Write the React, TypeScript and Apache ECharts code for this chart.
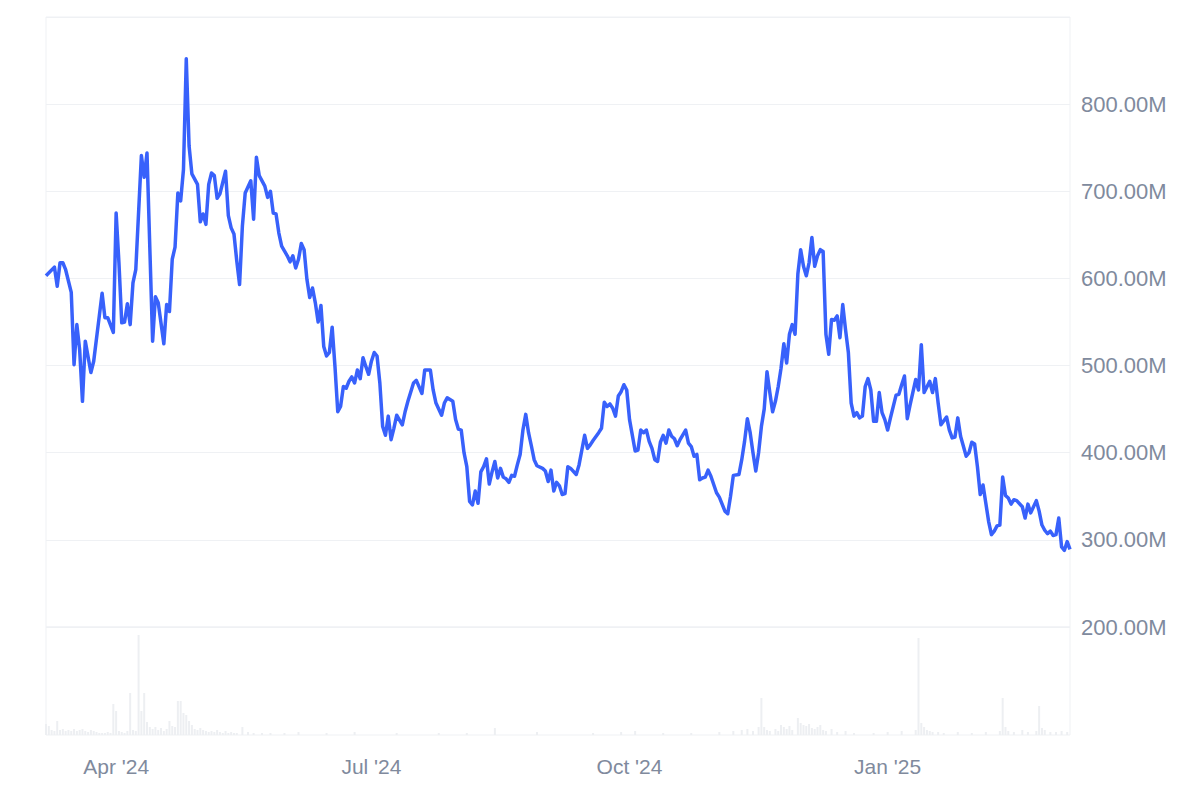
import { useEffect, useRef } from "react";
import * as echarts from "echarts";

const START = Date.UTC(2024, 2, 7);
const END = Date.UTC(2025, 2, 7);
const DAY = 86400000;

// Market cap (millions USD): day offset from 2024-03-07 and value
const capDays = [
  0, 3, 4, 5, 6, 7, 9, 10, 11, 12, 13, 14, 16, 17, 19, 20, 21, 22, 24, 25, 26, 27, 28, 29, 30, 31, 32, 34, 35, 36, 38, 39, 40, 42, 43, 44, 45, 46, 47, 48, 49, 50, 51, 52, 54, 55, 56, 57, 58, 59, 60, 61, 62, 64, 65, 66, 67, 68, 69, 70, 71, 73, 74, 75, 76, 78, 79, 80, 81, 82, 83, 84, 86, 87, 88, 89, 90, 91, 92, 93, 94, 95, 96, 97, 98, 99, 100, 101, 102, 103, 104, 105, 106, 107, 108, 109, 110, 111, 112, 113, 114, 115, 116, 117, 118, 119, 120, 121, 122, 123, 124, 125, 127, 128, 129, 131, 132, 134, 135, 137, 138, 139, 141, 142, 143, 145, 146, 147, 148, 149, 150, 151, 152, 153, 154, 155, 156, 157, 158, 159, 160, 161, 162, 163, 164, 165, 166, 167, 168, 169, 170, 171, 172, 173, 174, 175, 177, 178, 179, 180, 181, 182, 183, 184, 185, 186, 187, 189, 190, 192, 193, 194, 195, 197, 198, 199, 200, 201, 202, 203, 204, 205, 206, 207, 208, 210, 211, 212, 213, 214, 215, 216, 217, 218, 219, 220, 221, 222, 223, 224, 225, 226, 228, 229, 230, 231, 232, 233, 234, 235, 236, 237, 239, 240, 242, 243, 244, 245, 247, 248, 249, 250, 251, 252, 253, 254, 255, 256, 257, 258, 259, 260, 261, 262, 263, 264, 265, 266, 267, 268, 269, 270, 271, 272, 273, 274, 275, 276, 277, 278, 279, 280, 281, 282, 283, 284, 285, 286, 287, 288, 289, 290, 291, 292, 293, 294, 295, 296, 297, 298, 299, 300, 301, 303, 304, 305, 306, 307, 308, 310, 311, 312, 313, 315, 316, 317, 318, 319, 321, 322, 323, 324, 325, 326, 328, 329, 330, 331, 332, 333, 334, 335, 336, 337, 338, 339, 340, 341, 342, 343, 344, 345, 346, 348, 349, 350, 351, 353, 354, 355, 356, 357, 358, 359, 360, 361, 362, 363, 364, 365,
];
const capValues = [
  603, 613, 591, 618, 618, 610, 584, 501, 547, 518, 459, 528, 492, 505, 557, 583, 555, 555, 538, 675, 618, 549, 550, 571, 547, 595, 610, 741, 716, 744, 528, 579, 572, 525, 570, 562, 622, 636, 698, 689, 725, 852, 752, 720, 708, 665, 674, 662, 708, 721, 718, 692, 697, 723, 672, 658, 651, 620, 593, 660, 698, 712, 668, 739, 718, 706, 693, 700, 675, 674, 652, 637, 626, 619, 626, 612, 622, 640, 633, 599, 578, 589, 572, 550, 569, 522, 511, 515, 544, 499, 447, 453, 476, 474, 482, 487, 480, 495, 485, 509, 499, 490, 505, 515, 511, 480, 430, 420, 442, 415, 428, 443, 432, 447, 459, 480, 483, 468, 495, 495, 472, 457, 443, 457, 463, 459, 438, 427, 426, 400, 384, 344, 340, 356, 342, 378, 384, 393, 364, 378, 390, 371, 382, 372, 370, 366, 374, 373, 386, 398, 426, 444, 423, 408, 392, 385, 382, 379, 367, 380, 356, 366, 362, 352, 353, 384, 382, 375, 386, 420, 405, 409, 414, 423, 428, 458, 453, 456, 451, 442, 465, 470, 478, 472, 438, 402, 403, 426, 423, 426, 413, 405, 392, 390, 412, 420, 411, 426, 419, 416, 408, 415, 426, 411, 407, 396, 398, 369, 371, 372, 380, 373, 354, 349, 333, 330, 350, 374, 375, 392, 413, 439, 423, 400, 379, 400, 430, 450, 493, 469, 447, 459, 476, 497, 525, 503, 536, 547, 536, 605, 633, 614, 603, 618, 647, 614, 626, 633, 631, 536, 513, 553, 552, 557, 532, 570, 541, 515, 457, 442, 446, 440, 442, 476, 485, 472, 436, 436, 469, 446, 438, 426, 440, 466, 467, 478, 488, 439, 455, 484, 472, 524, 469, 482, 469, 485, 457, 432, 441, 426, 417, 418, 440, 419, 396, 400, 412, 410, 384, 352, 363, 342, 321, 306, 310, 316, 317, 372, 351, 348, 341, 346, 345, 338, 325, 341, 331, 345, 333, 317, 311, 307, 310, 305, 306, 325, 292, 288, 298, 289,
];

// Volume (relative units): day offset and value
const volDays = [
  0, 1, 2, 3, 4, 5, 6, 7, 8, 9, 10, 11, 12, 13, 14, 15, 16, 17, 18, 19, 20, 21, 22, 23, 24, 25, 26, 27, 28, 29, 30, 31, 32, 33, 34, 35, 36, 37, 38, 39, 40, 41, 42, 43, 44, 45, 46, 47, 48, 49, 50, 51, 52, 53, 54, 55, 56, 57, 58, 59, 60, 61, 62, 63, 64, 65, 66, 67, 68, 70, 72, 74, 77, 80, 85, 90, 100, 110, 125, 140, 150, 160, 175, 195, 205, 210, 220, 230, 240, 245, 248, 250, 252, 254, 255, 256, 257, 258, 260, 261, 262, 263, 264, 265, 266, 268, 269, 270, 271, 272, 273, 274, 275, 276, 277, 278, 280, 282, 285, 288, 295, 300, 305, 310, 311, 312, 313, 314, 315, 316, 318, 320, 325, 330, 335, 340, 341, 342, 343, 345, 348, 350, 353, 354, 355, 356, 358, 360, 362, 364,
];
const volValues = [
  11, 9, 5, 4, 14, 5, 6, 4, 5, 4, 6, 4, 5, 6, 4, 3, 5, 4, 3, 2, 2, 2, 3, 2, 31, 24, 4, 3, 2, 4, 42, 5, 4, 100, 24, 42, 13, 8, 6, 8, 5, 7, 4, 6, 14, 9, 8, 34, 34, 22, 20, 14, 10, 6, 5, 7, 5, 4, 3, 4, 3, 5, 3, 2, 4, 2, 3, 2, 2, 8, 3, 2, 2, 2, 2, 3, 2, 3, 2, 2, 2, 7, 3, 2, 3, 4, 2, 2, 3, 4, 5, 6, 4, 8, 37, 8, 5, 4, 6, 4, 10, 8, 6, 9, 5, 17, 12, 10, 9, 11, 7, 6, 8, 10, 5, 4, 6, 3, 4, 2, 2, 3, 4, 5, 97, 12, 8, 5, 4, 3, 3, 2, 3, 2, 3, 4, 37, 8, 4, 3, 5, 3, 4, 29, 7, 5, 3, 3, 4, 3,
];

const yTicks = [200, 300, 400, 500, 600, 700, 800, 900];
const quarterTicks = [
  Date.UTC(2024, 3, 1),
  Date.UTC(2024, 6, 1),
  Date.UTC(2024, 9, 1),
  Date.UTC(2025, 0, 1),
];
const MONTHS = ["Jan", "Feb", "Mar", "Apr", "May", "Jun", "Jul", "Aug", "Sep", "Oct", "Nov", "Dec"];

const FONT = "'Liberation Sans', Arial, Helvetica, sans-serif";
const LABEL_COLOR = "#808a9d";
const GRID_COLOR = "#eff1f4";

export default function App() {
  const ref = useRef<HTMLDivElement>(null);

  useEffect(() => {
    if (!ref.current) return;
    const chart = echarts.init(ref.current, null, { renderer: "svg" });
    const capData = capDays.map((d, i) => [START + d * DAY, capValues[i]]);
    const volData = volDays.map((d, i) => [START + d * DAY, volValues[i]]);

    chart.setOption({
      animation: false,
      backgroundColor: "#ffffff",
      textStyle: { fontFamily: FONT },
      grid: [
        {
          left: 46, right: 128, top: 17, height: 610,
          show: true, borderColor: GRID_COLOR, borderWidth: 1, backgroundColor: "transparent",
        },
        {
          left: 46, right: 128, top: 627, height: 108,
          show: true, borderColor: GRID_COLOR, borderWidth: 1, backgroundColor: "transparent",
        },
      ],
      xAxis: [
        {
          type: "value", gridIndex: 0, min: START, max: END,
          axisLine: { show: false }, axisTick: { show: false },
          axisLabel: { show: false }, splitLine: { show: false },
        },
        {
          type: "value", gridIndex: 1, min: START, max: END,
          axisLine: { show: false }, axisTick: { show: false },
          splitLine: { show: false },
          axisLabel: {
            customValues: quarterTicks,
            margin: 21,
            color: LABEL_COLOR,
            fontSize: 21,
            fontFamily: FONT,
            formatter: (v: number) => {
              const d = new Date(v);
              return `${MONTHS[d.getUTCMonth()]} '${String(d.getUTCFullYear()).slice(2)}`;
            },
          },
        },
      ],
      yAxis: [
        {
          type: "value", gridIndex: 0, position: "right",
          min: yTicks[0], max: yTicks[yTicks.length - 1], interval: 100,
          axisLine: { show: false }, axisTick: { show: false },
          splitLine: { show: true, lineStyle: { color: GRID_COLOR, width: 1 } },
          axisLabel: {
            margin: 11,
            color: LABEL_COLOR,
            fontSize: 22,
            fontFamily: FONT,
            formatter: (v: number) => (v >= 900 ? "" : `${v.toFixed(2)}M`),
          },
        },
        {
          type: "value", gridIndex: 1, min: 0, max: 108, show: false,
          splitLine: { show: false },
        },
      ],
      series: [
        {
          type: "bar", xAxisIndex: 1, yAxisIndex: 1, data: volData,
          barWidth: 2, itemStyle: { color: "#edeff2" }, silent: true,
        },
        {
          type: "line", xAxisIndex: 0, yAxisIndex: 0, data: capData,
          showSymbol: false, symbol: "none",
          lineStyle: { color: "#3861fb", width: 3.5, join: "round" },
          silent: true,
        },
      ],
    });

    return () => chart.dispose();
  }, []);

  return (
    <div
      ref={ref}
      style={{ position: "fixed", left: 0, top: 0, width: 1198, height: 795, background: "#fff" }}
    />
  );
}
